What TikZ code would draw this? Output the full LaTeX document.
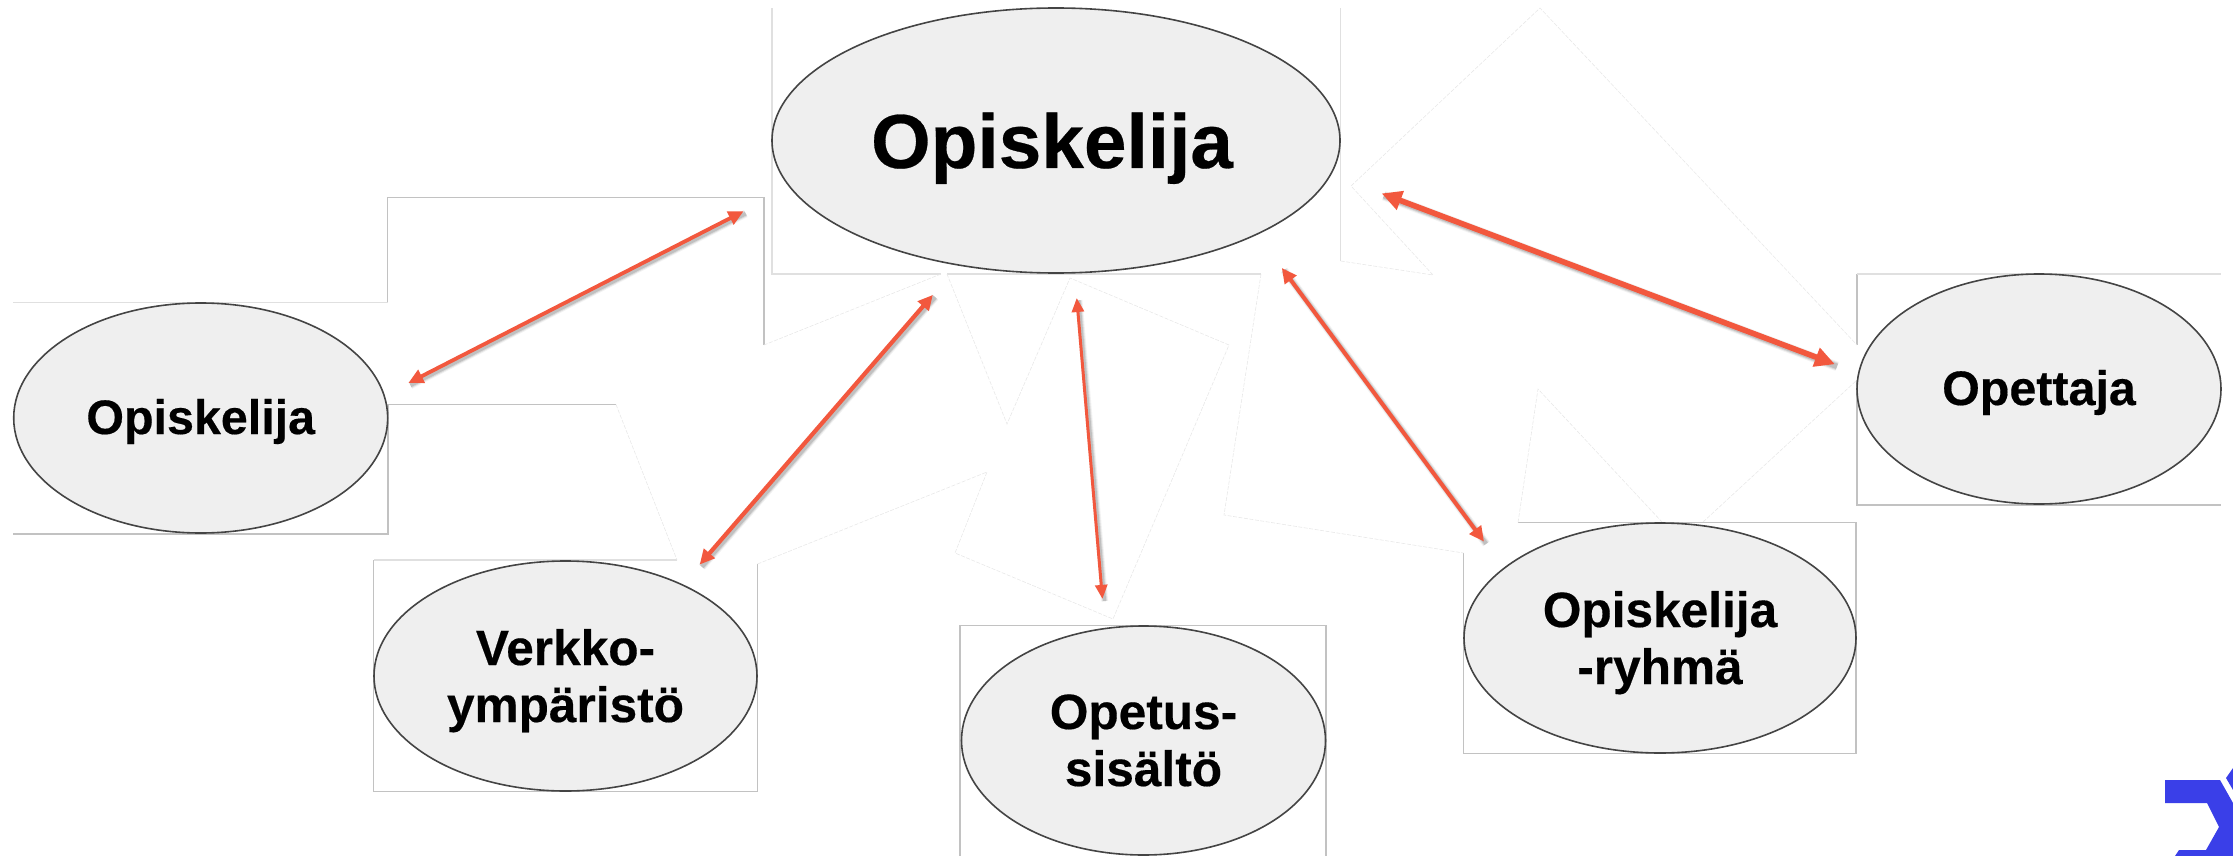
\documentclass[tikz,border=0pt]{standalone}
\usepackage{fontspec}
\setmainfont[BoldFeatures={FakeBold=0.35}]{Liberation Sans}
\usetikzlibrary{arrows.meta,shapes.geometric}
\definecolor{arrowred}{HTML}{F2583E}
\definecolor{bubble}{HTML}{EFEFEF}
\definecolor{bubbleline}{HTML}{444444}
\definecolor{logoblue}{HTML}{3A3FE8}
\newcommand{\oneline}[2]{\raisebox{#1pt}[0pt][0pt]{#2}}
\newcommand{\twoline}[3]{\raisebox{#1pt}[0pt][0pt]{\begin{tabular}[t]{@{}c@{}}#2\\#3\end{tabular}}}
\tikzset{
  x=1pt,y=-1pt,
  bubblenode/.style={ellipse,draw=bubbleline,line width=1.6pt,fill=bubble,inner sep=0pt,outer sep=0pt},
  boxedge/.style={draw=black!24,line width=1.2pt},
  softedge/.style={draw=black!12,line width=1.1pt},
  faintedge/.style={draw=black!9,line width=.6pt,dash pattern=on 4pt off 1.5pt},
  smalltext/.style={font=\fontsize{48.4}{57}\selectfont\bfseries},
  widetext/.style={font=\fontsize{49.6}{57}\selectfont\bfseries},
  bigtext/.style={font=\fontsize{76.6}{80}\selectfont\bfseries},
  linkarrow/.style n args={3}{draw=arrowred,line width=#1,{Triangle[length=#2,width=#3]}-{Triangle[length=#2,width=#3]},
    preaction={draw=black,draw opacity=.05,line width=#1+4pt,arrows=-,transform canvas={shift={(2.2pt,-2.2pt)}}},
    preaction={draw=black,draw opacity=.09,line width=#1+2pt,arrows=-,transform canvas={shift={(2.2pt,-2.2pt)}}},
    preaction={draw=black,draw opacity=.13,line width=#1,arrows=-,transform canvas={shift={(2.2pt,-2.2pt)}}}},
}
\begin{document}
\begin{tikzpicture}
\useasboundingbox (0,0) rectangle (2233,856);
\clip (0,0) rectangle (2233,856);

% remnants of the white boxes behind the picture
\draw[softedge] (772,8) -- (772,274) -- (941,274);
\draw[softedge] (947,274) -- (1261,274);
\draw[boxedge] (764,345) -- (764,197.5) -- (387.6,197.5) -- (387.6,302.5);
\draw[softedge] (387.6,302.5) -- (13,302.5);
\draw[boxedge] (13,534) -- (388,534) -- (388,404.5) -- (616,404.5);
\draw[softedge] (677,560) -- (373.5,560);
\draw[boxedge] (373.5,560) -- (373.5,791.5) -- (757.5,791.5) -- (757.5,564);
\draw[boxedge] (960,856) -- (960,625.5) -- (1326,625.5) -- (1326,856);
\draw[softedge] (1340.6,8) -- (1340.6,261);
\draw[boxedge] (1463.5,553) -- (1463.5,753.5) -- (1856,753.5) -- (1856,522.5) -- (1518,522.5);
\draw[boxedge] (1857,345) -- (1857,274);
\draw[softedge] (1857,274) -- (2221,274);
\draw[boxedge] (1857,380) -- (1857,505) -- (2221,505);
\draw[faintedge] (941,274) -- (764,345);
\draw[faintedge] (616,404.5) -- (677,560);
\draw[faintedge] (757.5,564) -- (987,472) -- (955,553) -- (1113,619) -- (1229,345) -- (1070,278) -- (1007,424) -- (947,274);
\draw[faintedge] (1261,274) -- (1224,515) -- (1463.5,553);
\draw[faintedge] (1340.6,261) -- (1433,275) -- (1351,186) -- (1540,8) -- (1857,345);
\draw[faintedge] (1518,522.5) -- (1538,389) -- (1662,522);
\draw[faintedge] (1703,522) -- (1857,380);

% bubbles
\node[bubblenode,minimum width=568pt,minimum height=265pt,bigtext] (main) at (1056,140.5) {\oneline{-27.5}{\hspace*{-8pt}Opiskelija}};
\node[bubblenode,minimum width=374pt,minimum height=230pt,smalltext] (peer) at (200.7,418) {\oneline{-16}{Opiskelija}};
\node[bubblenode,minimum width=383pt,minimum height=230pt,widetext] (web) at (565.5,676) {\twoline{11}{Verkko-}{ympäristö}};
\node[bubblenode,minimum width=364pt,minimum height=229pt,widetext] (content) at (1143.5,740.5) {\twoline{11.5}{Opetus-}{sisältö}};
\node[bubblenode,minimum width=392pt,minimum height=230pt,widetext] (group) at (1660,638) {\twoline{11}{Opiskelija}{-ryhmä}};
\node[bubblenode,minimum width=364pt,minimum height=230pt,smalltext] (teacher) at (2039,389) {\oneline{-16}{Opettaja}};

% double-headed arrows
\draw[linkarrow={3.8pt}{15pt}{14pt},shorten <=52.6pt,shorten >=27.2pt] (main.190.5) -- (peer.7.4);
\draw[linkarrow={4.2pt}{15pt}{14pt},shorten <=39.5pt,shorten >=26.7pt] (main.232.5) -- (web.38.65);
\draw[linkarrow={3pt}{14pt}{12pt},shorten <=25.4pt,shorten >=29.8pt] (main.278.1) -- (content.109.2);
\draw[linkarrow={4pt}{15pt}{14pt},shorten <=42pt,shorten >=33.4pt] (main.335.5) -- (group.156.3);
\draw[linkarrow={5.6pt}{20pt}{19pt},shorten <=54.5pt,shorten >=25.5pt] (main.353.85) -- (teacher.175.3);

% corner logo
\fill[logoblue] (2165,780) -- (2220,780) -- (2233,803) -- (2233,856) -- (2175,856) -- (2179,850) -- (2206,850) -- (2219,827) -- (2207,803) -- (2165,803) -- cycle;
\fill[logoblue] (2233,768) -- (2226,778) -- (2233,790) -- cycle;
\end{tikzpicture}
\end{document}
